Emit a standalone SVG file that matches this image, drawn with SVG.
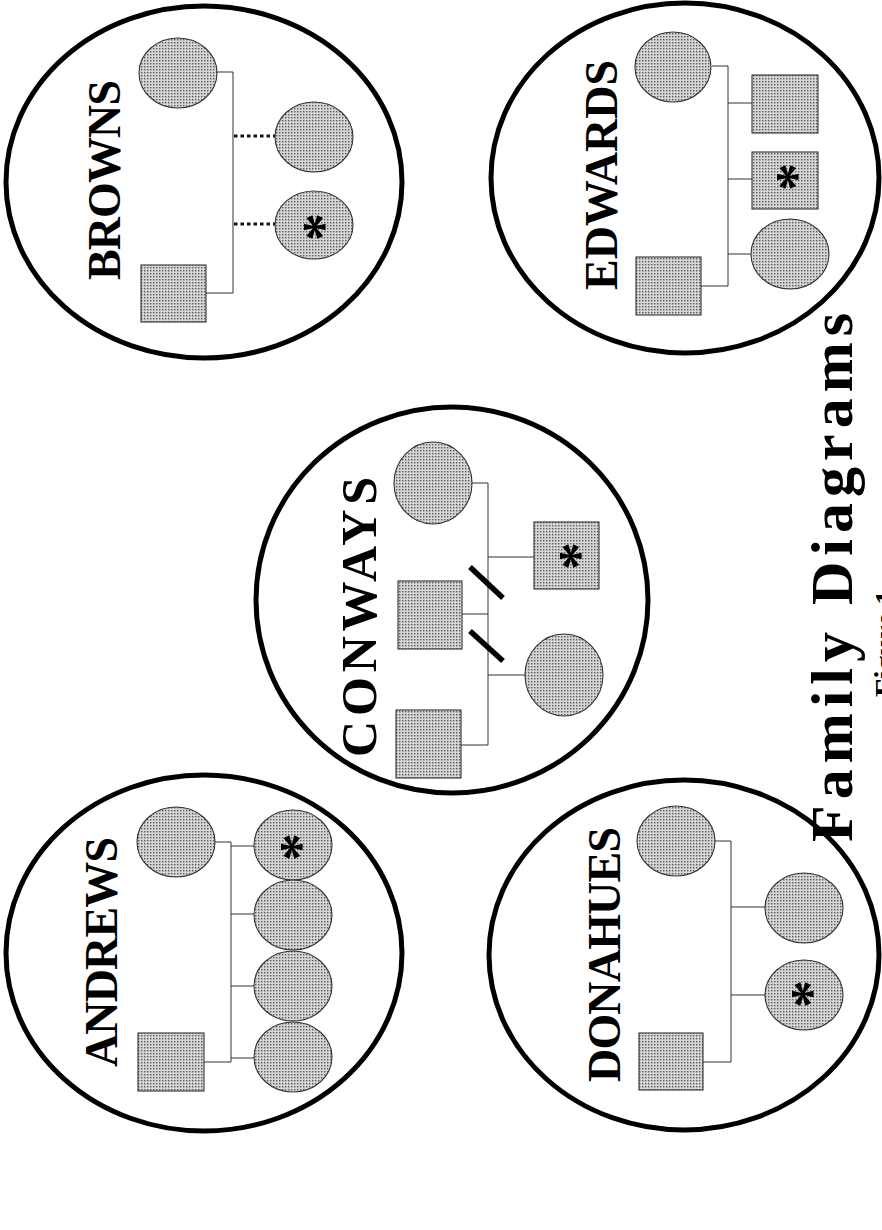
<svg xmlns="http://www.w3.org/2000/svg" width="882" height="1230" viewBox="0 0 882 1230">
<defs>
<pattern id="stip" width="3" height="3" patternUnits="userSpaceOnUse">
<rect width="3" height="3" fill="#d6d6d6"/>
<rect width="1.4" height="1.4" fill="#5a5a5a"/>
</pattern>
<style>
.fam{fill:none;stroke:#000;stroke-width:5}
.n{fill:url(#stip);stroke:#333;stroke-width:1.1}
.c{fill:none;stroke:#333;stroke-width:1}
.dot{fill:none;stroke:#111;stroke-width:3;stroke-dasharray:3.5 3}
.sl{stroke:#000;stroke-width:5.5;stroke-linecap:butt}
.name{font-family:"Liberation Serif","Times New Roman",serif;font-weight:bold;font-size:46px;fill:#000}
.ast{font-family:"Liberation Serif","Times New Roman",serif;font-weight:bold;font-size:56px;fill:#000;text-anchor:middle}
.title{font-family:"Liberation Serif","Times New Roman",serif;font-weight:bold;font-size:60px;fill:#000}
</style>
</defs>
<rect width="882" height="1230" fill="#fff"/>

<!-- family outlines -->
<g id="browns-border"><ellipse class="fam" cx="204" cy="182" rx="198" ry="176"/></g>
<g id="edwards-border"><ellipse class="fam" cx="685" cy="178" rx="194" ry="175"/></g>
<g id="conways-border"><ellipse class="fam" cx="452" cy="600" rx="196" ry="193"/></g>
<g id="andrews-border"><ellipse class="fam" cx="204" cy="953" rx="198" ry="178"/></g>
<g id="donahues-border"><ellipse class="fam" cx="684" cy="955" rx="195" ry="175"/></g>

<!-- connectors -->
<g id="connectors">
<!-- Browns -->
<path class="c" d="M217 72H233V293H206"/>
<line class="dot" x1="234" y1="136" x2="275" y2="136"/>
<line class="dot" x1="234" y1="224" x2="275" y2="224"/>
<!-- Edwards -->
<path class="c" d="M712 66H728V286H701"/>
<path class="c" d="M728 103H752M728 179H752M728 254H751"/>
<!-- Conways -->
<path class="c" d="M472 483H488V745H461M462 614H488"/>
<path class="c" d="M488 557H534M488 675H525"/>
<line class="sl" x1="470" y1="567" x2="503" y2="598"/>
<line class="sl" x1="470" y1="631" x2="503" y2="661"/>
<!-- Andrews -->
<path class="c" d="M215 842H231V1062H204"/>
<path class="c" d="M231 846H254M231 914H254M231 986H254M231 1058H254"/>
<!-- Donahues -->
<path class="c" d="M715 841H731V1062H703"/>
<path class="c" d="M731 907H765M731 995H765"/>
</g>

<!-- Browns -->
<g id="browns">
<text class="name" transform="translate(120 280) rotate(-90)" textLength="200" lengthAdjust="spacing">BROWNS</text>
<ellipse id="browns-mother" class="n" cx="178" cy="73" rx="39" ry="35"/>
<rect id="browns-father" class="n" x="141" y="265" width="65" height="57"/>
<ellipse id="browns-child1" class="n" cx="314" cy="137" rx="39" ry="35"/>
<ellipse id="browns-child2" class="n" cx="314" cy="225" rx="39" ry="34"/>
<text class="ast" transform="translate(342 227) rotate(-90)">*</text>
</g>

<!-- Edwards -->
<g id="edwards">
<text class="name" transform="translate(617 290) rotate(-90)" textLength="230" lengthAdjust="spacing">EDWARDS</text>
<ellipse id="edwards-mother" class="n" cx="673" cy="67" rx="38" ry="35"/>
<rect id="edwards-father" class="n" x="636" y="257" width="65" height="58"/>
<rect id="edwards-child1" class="n" x="752" y="75" width="66" height="58"/>
<rect id="edwards-child2" class="n" x="752" y="152" width="66" height="57"/>
<ellipse id="edwards-child3" class="n" cx="790" cy="254" rx="39" ry="35"/>
<text class="ast" transform="translate(815 177) rotate(-90)">*</text>
</g>

<!-- Conways -->
<g id="conways">
<text class="name" style="font-size:50px" transform="translate(376 757) rotate(-90)" textLength="280" lengthAdjust="spacing">CONWAYS</text>
<ellipse id="conways-mother" class="n" cx="433" cy="483" rx="39" ry="41"/>
<rect id="conways-father1" class="n" x="398" y="581" width="64" height="68"/>
<rect id="conways-father2" class="n" x="396" y="710" width="65" height="68"/>
<rect id="conways-child1" class="n" x="534" y="522" width="65" height="67"/>
<ellipse id="conways-child2" class="n" cx="564" cy="675" rx="39" ry="41"/>
<text class="ast" transform="translate(598 556) rotate(-90)">*</text>
</g>

<!-- Andrews -->
<g id="andrews">
<text class="name" transform="translate(117 1067) rotate(-90)" textLength="230" lengthAdjust="spacing">ANDREWS</text>
<ellipse id="andrews-mother" class="n" cx="176" cy="842" rx="39" ry="35"/>
<rect id="andrews-father" class="n" x="138" y="1033" width="66" height="58"/>
<ellipse id="andrews-child1" class="n" cx="293" cy="845" rx="39" ry="35"/>
<ellipse id="andrews-child2" class="n" cx="293" cy="915" rx="39" ry="35"/>
<ellipse id="andrews-child3" class="n" cx="293" cy="986" rx="39" ry="35"/>
<ellipse id="andrews-child4" class="n" cx="293" cy="1057" rx="39" ry="35"/>
<text class="ast" transform="translate(319 847) rotate(-90)">*</text>
</g>

<!-- Donahues -->
<g id="donahues">
<text class="name" transform="translate(620 1082) rotate(-90)" textLength="255" lengthAdjust="spacing">DONAHUES</text>
<ellipse id="donahues-mother" class="n" cx="676" cy="841" rx="39" ry="35"/>
<rect id="donahues-father" class="n" x="639" y="1033" width="64" height="57"/>
<ellipse id="donahues-child1" class="n" cx="804" cy="908" rx="39" ry="35"/>
<ellipse id="donahues-child2" class="n" cx="804" cy="995" rx="39" ry="35"/>
<text class="ast" transform="translate(830 994) rotate(-90)">*</text>
</g>

<!-- Title -->
<g id="title">
<text class="title" transform="translate(852 842) rotate(-90)" textLength="529" lengthAdjust="spacing">Family Diagrams</text>
<text class="title" style="font-size:30px" transform="translate(895 697) rotate(-90)">Figure 1</text>
</g>
</svg>
